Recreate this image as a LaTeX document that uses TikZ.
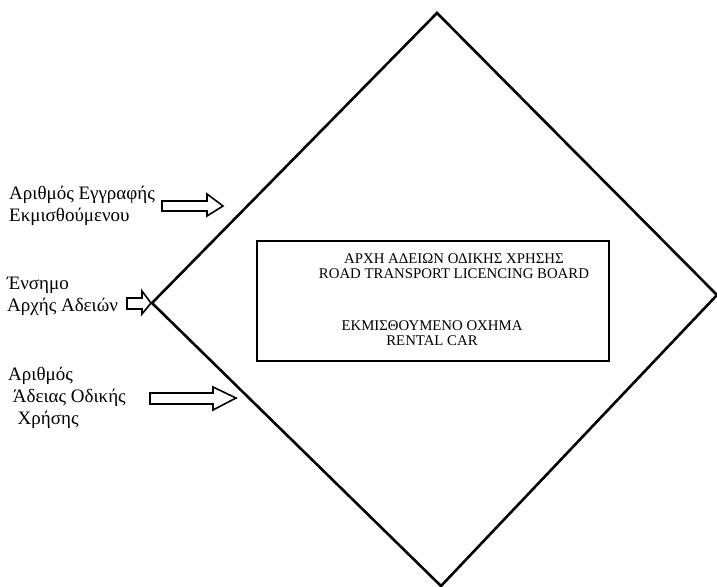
\documentclass[tikz,border=0pt]{standalone}
\usepackage{fontspec}
\setmainfont{Liberation Serif}
\begin{document}
\begin{tikzpicture}[x=1pt,y=-1pt,
  lbl/.style={anchor=west,inner sep=0pt,font=\fontsize{19}{22}\selectfont,align=left},
  boxtxt/.style={inner sep=0pt,font=\fontsize{14.8}{15.5}\selectfont,align=center},
  blockarrow/.style={draw=black,line width=1.6pt,fill=white,line join=miter},
  diam/.style={draw=black,line width=2.6pt,line join=miter}]
\useasboundingbox (0,0) rectangle (717,586);
% diamond
\coordinate (T) at (437,13);
\coordinate (R) at (717,295);
\coordinate (B) at (441,586);
\coordinate (L) at (152,303);
\draw[diam] (T) -- (R) -- (B) -- (L) -- cycle;
% central box
\node[draw=black,line width=1.4pt,minimum width=352,minimum height=120,inner sep=0pt] (box) at (433,301) {};
\node[boxtxt] (t1) at (454,266) {ΑΡΧΗ ΑΔΕΙΩΝ ΟΔΙΚΗΣ ΧΡΗΣΗΣ\\ROAD TRANSPORT LICENCING BOARD};
\node[boxtxt] (t2) at (432,333) {ΕΚΜΙΣΘΟΥΜΕΝΟ ΟΧΗΜΑ\\RENTAL CAR};
% labels
\node[lbl] (l1) at (9,206) {Αριθμός Εγγραφής\\Εκμισθούμενου};
\node[lbl] (l2) at (7,296) {Ένσημο\\Αρχής Αδειών};
\node[lbl] (l3) at (8,398) {Αριθμός\\\ Άδειας Οδικής\\\ \ Χρήσης};
% block arrows
\draw[blockarrow] (162,201) -- (207,201) -- (207,194) -- (223,206) -- (207,216) -- (207,211) -- (162,211) -- cycle;
\draw[blockarrow] (127,298) -- (142,298) -- (142,291) -- (151,303) -- (142,314) -- (142,309) -- (127,309) -- cycle;
\draw[blockarrow] (150,393) -- (213,393) -- (213,387) -- (236,398) -- (213,410) -- (213,404) -- (150,404) -- cycle;
\end{tikzpicture}
\end{document}
